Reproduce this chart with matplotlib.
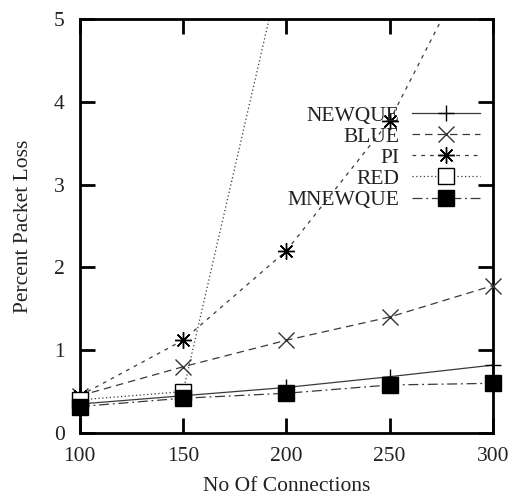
import matplotlib
matplotlib.use('Agg')
from matplotlib import pyplot as plt

plt.rcParams['font.family'] = ['Liberation Serif', 'DejaVu Serif']

# data
conns = [100, 150, 200, 250, 300]
newque = [0.35, 0.45, 0.55, 0.68, 0.82]
blue = [0.45, 0.80, 1.12, 1.40, 1.78]
pi = [0.45, 1.12, 2.20, 3.77, 6.20]
red_conns = [100, 150, 200]
red = [0.40, 0.50, 5.90]
mnewque = [0.32, 0.42, 0.48, 0.58, 0.60]

YMAX = 5

fig = plt.figure(figsize=(5.15, 4.98), dpi=100)
ax = fig.add_axes([0.155, 0.1305, 0.802, 0.8315])

lc = '#3a3a3a'
series = [
    ('NEWQUE', conns, newque, '-', dict(marker='+', ms=12, mec='black', mew=1.0)),
    ('BLUE', conns, blue, (0, (6, 4)), dict(marker='x', ms=11, mec='#333', mew=1.0)),
    ('PI', conns, pi, (0, (3, 4)), dict(marker=(8, 2, 0), ms=12, mec='black', mew=1.0)),
    ('RED', red_conns, red, (0, (1, 2)), dict(marker='s', ms=11, mfc='white', mec='black', mew=1.0)),
    ('MNEWQUE', conns, mnewque, (0, (8, 3, 1.5, 3)), dict(marker='s', ms=12, mfc='black', mec='black')),
]

for name, xs, ys, ls, mk in series:
    # line clipped to the axes, markers drawn unclipped (only the visible ones)
    ax.plot(xs, ys, color=lc, lw=0.9, ls=ls)
    vx = [x for x, y in zip(xs, ys) if y <= YMAX]
    vy = [y for y in ys if y <= YMAX]
    ax.plot(vx, vy, ls='none', clip_on=False, zorder=5, **mk)
    # legend proxy
    ax.plot([], [], color=lc, lw=0.9, ls=ls, label=name, **mk)

ax.set_xlim(100, 300)
ax.set_ylim(0, YMAX)
ax.set_xticks(conns)
ax.set_yticks([0, 1, 2, 3, 4, 5])
ax.tick_params(direction='in', length=11, width=2, labelsize=15.5, top=True, right=True, colors='black', labelcolor='#222')
ax.tick_params(axis='x', pad=10)
ax.tick_params(axis='y', pad=11)
for s in ax.spines.values():
    s.set_linewidth(2)

ax.set_xlabel('No Of Connections', fontsize=15.5, color='#222', labelpad=8)
ax.set_ylabel('Percent Packet Loss', fontsize=15.5, color='#222', labelpad=15)

ax.legend(loc='upper right', bbox_to_anchor=(0.969, 0.791), frameon=False, markerfirst=False,
          fontsize=15.5, numpoints=1, handlelength=3.16, handletextpad=0.6, labelspacing=0.05,
          borderpad=0, borderaxespad=0, labelcolor='#222')

fig.savefig('out.png', dpi=100)
